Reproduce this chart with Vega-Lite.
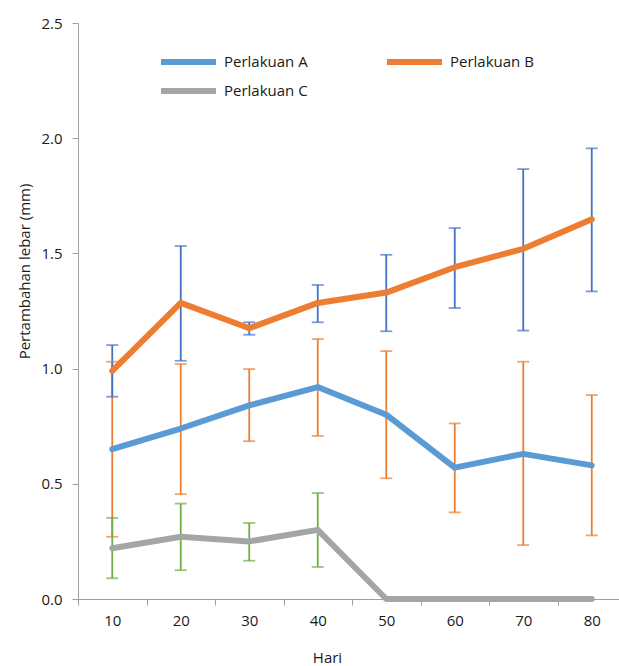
{
  "$schema": "https://vega.github.io/schema/vega-lite/v6.json",
  "width": 541,
  "height": 576,
  "autosize": {"type": "none"},
  "padding": {"left": 78, "top": 23, "right": 0, "bottom": 67},
  "background": "white",
  "config": {
    "view": {"stroke": null},
    "font": "Open Sans",
    "axis": {
      "labelFont": "Open Sans",
      "titleFont": "Open Sans",
      "labelFontSize": 15,
      "titleFontSize": 15,
      "titleFontWeight": "normal",
      "labelColor": "#1a1a1a",
      "titleColor": "#1a1a1a",
      "domainColor": "#a0a0a0",
      "tickColor": "#a0a0a0",
      "grid": false
    }
  },
  "data": {
    "values": [
      {"hari": "10", "seri": "Perlakuan A", "nilai": 0.65, "lo": 0.27, "hi": 1.03},
      {"hari": "20", "seri": "Perlakuan A", "nilai": 0.74, "lo": 0.455, "hi": 1.02},
      {"hari": "30", "seri": "Perlakuan A", "nilai": 0.84, "lo": 0.685, "hi": 0.998},
      {"hari": "40", "seri": "Perlakuan A", "nilai": 0.92, "lo": 0.708, "hi": 1.128},
      {"hari": "50", "seri": "Perlakuan A", "nilai": 0.80, "lo": 0.524, "hi": 1.076},
      {"hari": "60", "seri": "Perlakuan A", "nilai": 0.57, "lo": 0.376, "hi": 0.762},
      {"hari": "70", "seri": "Perlakuan A", "nilai": 0.63, "lo": 0.234, "hi": 1.03},
      {"hari": "80", "seri": "Perlakuan A", "nilai": 0.58, "lo": 0.276, "hi": 0.885},
      {"hari": "10", "seri": "Perlakuan B", "nilai": 0.99, "lo": 0.878, "hi": 1.102},
      {"hari": "20", "seri": "Perlakuan B", "nilai": 1.285, "lo": 1.034, "hi": 1.532},
      {"hari": "30", "seri": "Perlakuan B", "nilai": 1.175, "lo": 1.147, "hi": 1.201},
      {"hari": "40", "seri": "Perlakuan B", "nilai": 1.285, "lo": 1.201, "hi": 1.363},
      {"hari": "50", "seri": "Perlakuan B", "nilai": 1.33, "lo": 1.162, "hi": 1.494},
      {"hari": "60", "seri": "Perlakuan B", "nilai": 1.44, "lo": 1.263, "hi": 1.61},
      {"hari": "70", "seri": "Perlakuan B", "nilai": 1.52, "lo": 1.165, "hi": 1.866},
      {"hari": "80", "seri": "Perlakuan B", "nilai": 1.648, "lo": 1.335, "hi": 1.956},
      {"hari": "10", "seri": "Perlakuan C", "nilai": 0.22, "lo": 0.09, "hi": 0.352},
      {"hari": "20", "seri": "Perlakuan C", "nilai": 0.27, "lo": 0.125, "hi": 0.414},
      {"hari": "30", "seri": "Perlakuan C", "nilai": 0.25, "lo": 0.166, "hi": 0.33},
      {"hari": "40", "seri": "Perlakuan C", "nilai": 0.30, "lo": 0.139, "hi": 0.46},
      {"hari": "50", "seri": "Perlakuan C", "nilai": 0.0},
      {"hari": "60", "seri": "Perlakuan C", "nilai": 0.0},
      {"hari": "70", "seri": "Perlakuan C", "nilai": 0.0},
      {"hari": "80", "seri": "Perlakuan C", "nilai": 0.0}
    ]
  },
  "encoding": {
    "x": {
      "field": "hari",
      "type": "ordinal",
      "sort": ["10", "20", "30", "40", "50", "60", "70", "80"],
      "scale": {"type": "band", "paddingInner": 0, "paddingOuter": 0, "range": [0, 548]},
      "axis": {
        "title": "Hari",
        "labelAngle": 0,
        "tickBand": "extent",
        "tickSize": 6,
        "labelPadding": 8,
        "titlePadding": 22,
        "titleX": 249
      }
    }
  },
  "layer": [
    {
      "transform": [{"filter": "isValid(datum.lo)"}],
      "mark": {"type": "rule", "strokeWidth": 1.8},
      "encoding": {
        "y": {"field": "lo", "type": "quantitative"},
        "y2": {"field": "hi"},
        "color": {
          "field": "seri",
          "type": "nominal",
          "scale": {"domain": ["Perlakuan A", "Perlakuan B", "Perlakuan C"], "range": ["#ED7D31", "#4472C4", "#70AD47"]},
          "legend": null
        }
      }
    },
    {
      "transform": [{"filter": "isValid(datum.lo)"}],
      "mark": {"type": "tick", "size": 12, "thickness": 1.8},
      "encoding": {
        "y": {"field": "lo", "type": "quantitative"},
        "color": {
          "field": "seri",
          "type": "nominal",
          "scale": {"domain": ["Perlakuan A", "Perlakuan B", "Perlakuan C"], "range": ["#ED7D31", "#4472C4", "#70AD47"]},
          "legend": null
        }
      }
    },
    {
      "transform": [{"filter": "isValid(datum.hi)"}],
      "mark": {"type": "tick", "size": 12, "thickness": 1.8},
      "encoding": {
        "y": {"field": "hi", "type": "quantitative"},
        "color": {
          "field": "seri",
          "type": "nominal",
          "scale": {"domain": ["Perlakuan A", "Perlakuan B", "Perlakuan C"], "range": ["#ED7D31", "#4472C4", "#70AD47"]},
          "legend": null
        }
      }
    },
    {
      "mark": {"type": "line", "strokeWidth": 6, "strokeCap": "round", "strokeJoin": "round"},
      "encoding": {
        "y": {
          "field": "nilai",
          "type": "quantitative",
          "scale": {"domain": [0, 2.5], "nice": false},
          "axis": {
            "title": "Pertambahan lebar (mm)",
            "values": [0, 0.5, 1, 1.5, 2, 2.5],
            "format": ".1f",
            "tickSize": 6,
            "labelPadding": 10,
            "titlePadding": 8,
            "titleY": 248
          }
        },
        "color": {
          "field": "seri",
          "type": "nominal",
          "scale": {"domain": ["Perlakuan A", "Perlakuan B", "Perlakuan C"], "range": ["#5B9BD5", "#ED7D31", "#A5A5A5"]},
          "legend": {
            "title": null,
            "orient": "none",
            "legendX": 80,
            "legendY": 29,
            "direction": "horizontal",
            "columns": 2,
            "columnPadding": 76,
            "rowPadding": 9,
            "clipHeight": 20,
            "padding": 0,
            "symbolType": "stroke",
            "symbolSize": 3025,
            "symbolStrokeWidth": 6,
            "labelFont": "Open Sans",
            "labelFontSize": 15,
            "labelColor": "#1a1a1a",
            "labelOffset": 5
          }
        }
      }
    }
  ],
  "resolve": {"scale": {"color": "independent"}}
}
